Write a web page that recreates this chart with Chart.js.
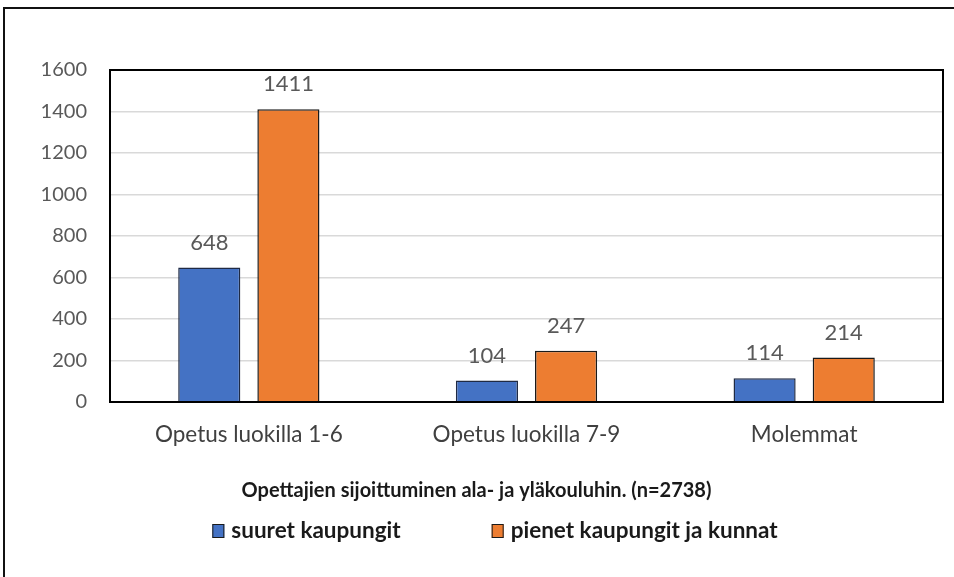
<!DOCTYPE html>
<html>
<head>
<meta charset="utf-8">
<script src="https://cdn.jsdelivr.net/npm/chart.js@4"></script>
<style>
  body { margin: 0; background: #fff; }
  #wrap { position: relative; width: 954px; height: 577px; overflow: hidden; }
  #chart { position: absolute; left: 0; top: 0; }
  #frame { position: absolute; left: 3px; top: 7px; width: 1000px; height: 700px; border: 2px solid #111; pointer-events: none; }
</style>
</head>
<body>
<div id="wrap">
  <canvas id="chart" width="954" height="577"></canvas>
  <div id="frame"></div>
</div>
<script>
const categories = ["Opetus luokilla 1-6", "Opetus luokilla 7-9", "Molemmat"];
const suuret = [648, 104, 114];
const pienet = [1411, 247, 214];
const seriesLabels = ["suuret kaupungit", "pienet kaupungit ja kunnat"];
const yTicks = [0, 200, 400, 600, 800, 1000, 1200, 1400, 1600];
const axisTitle = "Opettajien sijoittuminen ala- ja yläkouluhin. (n=2738)";

const FONT = "Lato";

// value labels above each bar
const valueLabels = {
  id: "valueLabels",
  afterDatasetsDraw(chart) {
    const ctx = chart.ctx;
    ctx.save();
    ctx.font = "22px " + FONT;
    ctx.fillStyle = "#595959";
    ctx.textAlign = "center";
    ctx.textBaseline = "middle";
    chart.data.datasets.forEach((ds, i) => {
      chart.getDatasetMeta(i).data.forEach((bar, j) => {
        ctx.fillText(String(ds.data[j]), bar.x, bar.y - 25);
      });
    });
    ctx.restore();
  },
};

// black frame round the plot area
const plotFrame = {
  id: "plotFrame",
  afterDraw(chart) {
    const { left, top, right, bottom } = chart.chartArea;
    const ctx = chart.ctx;
    ctx.save();
    ctx.strokeStyle = "#000";
    ctx.lineWidth = 2;
    ctx.strokeRect(left, top, right - left, bottom - top);
    ctx.restore();
  },
};

// legend drawn like the office chart: small squares, bold text, wide gap
const bottomLegend = {
  id: "bottomLegend",
  afterDraw(chart) {
    const ctx = chart.ctx;
    ctx.save();
    ctx.font = "bold 22.5px " + FONT;
    const box = 12, gap = 7, between = 91;
    const items = chart.data.datasets.map((ds) => ({
      text: ds.label,
      color: ds.backgroundColor,
      w: ctx.measureText(ds.label).width,
    }));
    let total = 0;
    items.forEach((it, i) => {
      total += box + gap + it.w + (i > 0 ? between : 0);
    });
    let x = 495 - total / 2;
    const y = 531;
    items.forEach((it) => {
      ctx.fillStyle = it.color;
      ctx.fillRect(x, y - 7, box, 14);
      ctx.strokeStyle = "#1a1a1a";
      ctx.lineWidth = 1;
      ctx.strokeRect(x + 0.5, y - 6.5, box - 1, 13);
      ctx.fillStyle = "#1a1a1a";
      ctx.textBaseline = "middle";
      ctx.textAlign = "left";
      ctx.fillText(it.text, x + box + gap, y);
      x += box + gap + it.w + between;
    });
    ctx.restore();
  },
};

new Chart(document.getElementById("chart"), {
  type: "bar",
  data: {
    labels: categories,
    datasets: [
      {
        label: seriesLabels[0],
        data: suuret,
        backgroundColor: "#4472C4",
        borderColor: "#1f2a44",
        borderWidth: 1.5,
        categoryPercentage: 0.57,
        barPercentage: 0.785,
      },
      {
        label: seriesLabels[1],
        data: pienet,
        backgroundColor: "#ED7D31",
        borderColor: "#1a1a1a",
        borderWidth: 1.5,
        categoryPercentage: 0.57,
        barPercentage: 0.785,
      },
    ],
  },
  options: {
    responsive: false,
    animation: false,
    devicePixelRatio: 1,
    layout: {
      padding: { top: 70, right: 11, left: 10, bottom: 65 },
    },
    plugins: {
      legend: { display: false },
      tooltip: { enabled: false },
      title: {
        display: true,
        position: "bottom",
        text: axisTitle,
        color: "#1a1a1a",
        padding: { top: 9, bottom: 9 },
        font: { family: FONT, size: 20, weight: "bold", lineHeight: 1.2 },
      },
    },
    scales: {
      x: {
        grid: { display: false, drawTicks: false },
        border: { display: false },
        ticks: {
          color: "#404040",
          padding: 19,
          font: { family: FONT, size: 22.5 },
        },
        afterFit: (scale) => {
          scale.height = 68;
        },
      },
      y: {
        min: 0,
        max: 1600,
        afterBuildTicks: (scale) => {
          scale.ticks = yTicks.map((v) => ({ value: v }));
        },
        grid: { color: "#d9d9d9", lineWidth: 1.5, drawTicks: false },
        border: { display: false },
        ticks: {
          color: "#595959",
          padding: 23,
          font: { family: FONT, size: 20 },
          callback: (v) => String(v),
        },
        afterFit: (scale) => {
          scale.width = 100;
        },
      },
    },
  },
  plugins: [valueLabels, plotFrame, bottomLegend],
});
</script>
</body>
</html>
